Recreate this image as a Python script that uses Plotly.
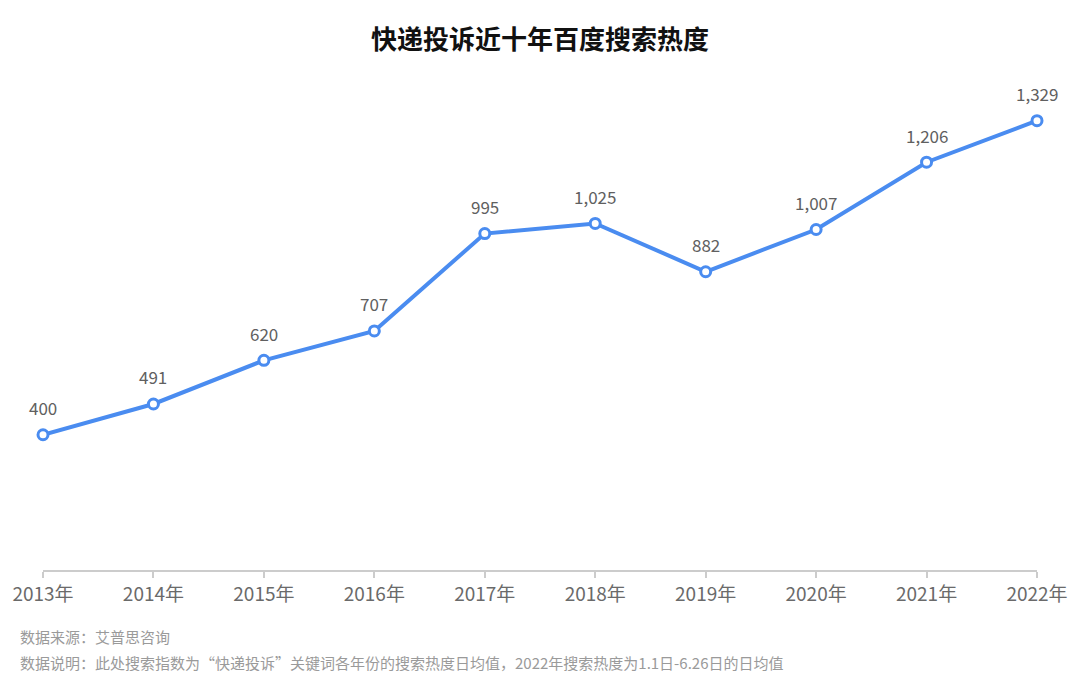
import plotly.graph_objects as go

years = ["2013年", "2014年", "2015年", "2016年", "2017年", "2018年", "2019年", "2020年", "2021年", "2022年"]
values = [400, 491, 620, 707, 995, 1025, 882, 1007, 1206, 1329]
labels = [f"{v:,}" for v in values]

title = "快递投诉近十年百度搜索热度"
source = "数据来源：艾普思咨询"
note = "数据说明：此处搜索指数为“快递投诉”关键词各年份的搜索热度日均值，2022年搜索热度为1.1日-6.26日的日均值"

font_family = "Noto Sans CJK SC, Noto Sans, sans-serif"
blue = "#4a8cf0"

fig = go.Figure()
fig.add_trace(go.Scatter(
    x=years, y=values,
    mode="lines+markers",
    line=dict(color=blue, width=4),
    marker=dict(size=10, color="white", line=dict(color=blue, width=3)),
    cliponaxis=False,
    hoverinfo="x+y",
))

for yr, v, lab in zip(years, values, labels):
    fig.add_annotation(x=yr, y=v, text=lab, showarrow=False, yshift=27,
                       xanchor="center", yanchor="middle",
                       font=dict(size=17, color="#606060", family=font_family))

fig.update_layout(
    width=1080, height=682,
    margin=dict(l=39, r=43, t=100, b=112),
    paper_bgcolor="white", plot_bgcolor="white",
    showlegend=False,
    font=dict(family=font_family),
    title=dict(text=f"<b>{title}</b>", x=0.5, xanchor="center", y=0.942, yanchor="middle",
               font=dict(size=26, color="#111111", family=font_family)),
    xaxis=dict(
        type="category", range=[0, 9],
        showgrid=False, zeroline=False,
        showline=True, linecolor="#cccccc", linewidth=1.5,
        ticks="outside", ticklen=6, tickcolor="#cccccc", tickwidth=1.5,
        tickfont=dict(size=19, color="#6a6a6a", family=font_family),
    ),
    yaxis=dict(range=[0, 1390], visible=False, showgrid=False, zeroline=False),
)

fig.add_annotation(text=source, xref="paper", yref="paper", x=-25/998, y=-66/470,
                   xanchor="left", yanchor="middle", showarrow=False,
                   font=dict(size=15, color="#9a9a9a", family=font_family))
fig.add_annotation(text=note, xref="paper", yref="paper", x=-25/998, y=-92/470,
                   xanchor="left", yanchor="middle", showarrow=False,
                   font=dict(size=15, color="#9a9a9a", family=font_family))

fig.write_html("out.html", config={"displayModeBar": False},
               post_script="document.body.style.margin='0';")
